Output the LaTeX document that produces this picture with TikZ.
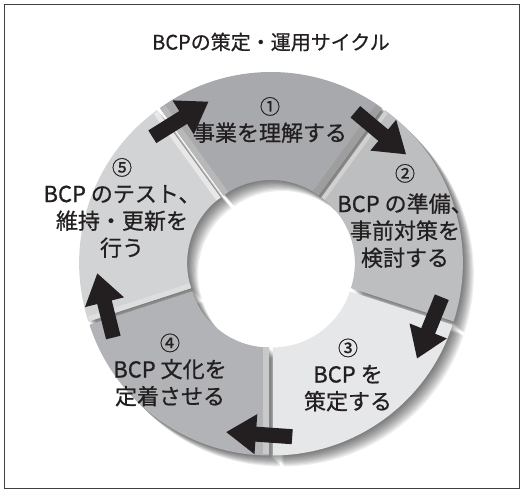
\documentclass[tikz,border=0pt]{standalone}
\usepackage{fontspec}
\setmainfont{Noto Sans CJK JP}[FakeBold=0.7]
\usetikzlibrary{arrows.meta}

\definecolor{segA}{HTML}{A7A9AC}
\definecolor{segB}{HTML}{BCBEC0}
\definecolor{segC}{HTML}{E6E7E8}
\definecolor{segD}{HTML}{B1B3B6}
\definecolor{segE}{HTML}{D1D3D4}
\definecolor{inkdark}{HTML}{231F20}

\tikzset{
    seglabel/.style={align=center, text=inkdark, font=\fontsize{22}{27}\selectfont},
    cyclearrow/.style={line width=15pt, draw=inkdark, -{Triangle[length=30pt,width=38pt]}},
}

\begin{document}
\begin{tikzpicture}[x=1pt,y=1pt]
    \useasboundingbox (0,0) rectangle (523,490);
    \draw[black!75, line width=0.8pt] (4,2) rectangle (519,486);

    % Title
    \node[text=inkdark] (title) at (271,448) {\fontsize{20}{20}\selectfont BCPの策定・運用サイクル};

    \begin{scope}[shift={(271,226)}]
        % Soft shadow
        \foreach \s in {54,-18,-90,-162,126} {
            \pgfmathsetmacro\e{\s+72}
            \pgfmathsetmacro\m{\s+36}
            \foreach \k in {1,2,...,10} {
                \fill[black, opacity=0.065, shift={(\m:3)}, shift={(\k*1.1,-\k*1.1)}]
                    (\s:81) -- (\s:189) arc[start angle=\s, end angle=\e, radius=189pt]
                    -- (\e:81) arc[start angle=\e, end angle=\s, radius=81pt] -- cycle;
            }
        }

        % Ring segments
        \foreach \s/\c in {54/segA, -18/segB, -90/segC, -162/segD, 126/segE} {
            \pgfmathsetmacro\e{\s+72}
            \pgfmathsetmacro\m{\s+36}
            \fill[\c, shift={(\m:3)}]
                (\s:81) -- (\s:189) arc[start angle=\s, end angle=\e, radius=189pt]
                -- (\e:81) arc[start angle=\e, end angle=\s, radius=81pt] -- cycle;
        }

        % Bevel strips along some edges (angle/side/width/colour/segment middle)
        \foreach \s/\d/\w/\c/\m in {54/90/7/black!38/90, 54/-90/4/white!82!black/18,
                                   126/90/5/white!91!black/162, 126/-90/6/white!72!black/90,
                                   -90/-90/6/white!79!black/-126, 198/-90/5/white!87!black/162} {
            \fill[\c, shift={(\m:3)}]
                (\s:81) -- (\s:188) -- ++(\s+\d:\w) -- ++(\s+180:107) -- cycle;
        }

        % Arrow end points
        \foreach \i/\a in {1/122, 2/50, 3/-22, 4/-94, 5/-166} {
            \coordinate (as\i) at ({\a+11}:174);
            \coordinate (ae\i) at ({\a-11}:174);
        }
        \foreach \i in {1,...,5}
            \draw[cyclearrow] (as\i) -- (ae\i);
    \end{scope}

    % Segment texts
    \node[seglabel] (understand) at (270,370) {{\fontsize{20}{20}\selectfont ①}\\事業を理解する};
    \node[seglabel] (prepare) at (405,274) {{\fontsize{20}{20}\selectfont ②}\\[4pt]BCP の準備、\\事前対策を\\検討する};
    \node[seglabel] (formulate) at (348,115) {{\fontsize{20}{20}\selectfont ③}\\BCP を\\策定する};
    \node[seglabel] (establish) at (170,120) {{\fontsize{20}{20}\selectfont ④}\\BCP 文化を\\定着させる};
    \node[seglabel] (maintain) at (122,282) {{\fontsize{20}{20}\selectfont ⑤}\\BCP のテスト、\\維持・更新を\\行う};
\end{tikzpicture}
\end{document}
